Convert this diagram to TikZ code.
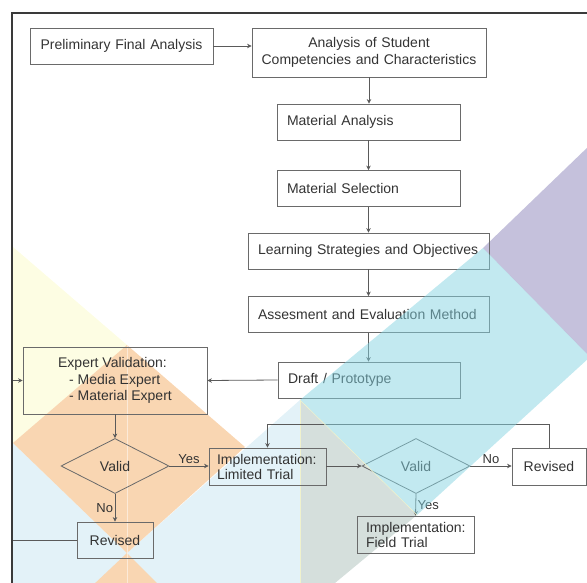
\documentclass[tikz,border=0pt]{standalone}
\usepackage{fontspec}
\setmainfont{Liberation Sans}
\usetikzlibrary{arrows.meta,shapes.geometric}

\definecolor{boxline}{HTML}{6A6A6A}
\definecolor{txt}{HTML}{333333}
\definecolor{framegray}{HTML}{3A3A3A}
\definecolor{bgyellow}{RGB}{253,253,227}
\definecolor{bgorange}{RGB}{249,214,178}
\definecolor{bgblue}{RGB}{227,242,248}
\definecolor{bggray}{RGB}{213,223,220}
\definecolor{bgcyan}{RGB}{133,211,225}
\definecolor{bgpurple}{RGB}{197,193,220}
\definecolor{seam}{RGB}{240,242,205}

\begin{document}
\begin{tikzpicture}
  [x=1pt,y=-1pt,
   every node/.style={text=txt,font=\fontsize{14}{16.5}\selectfont},
   box/.style={draw=boxline,line width=0.8pt,rectangle,inner xsep=10pt,inner ysep=0pt,minimum height=36pt},
   decision/.style={draw=boxline,line width=0.8pt,diamond,inner sep=0pt,minimum width=108pt,minimum height=55pt},
   arr/.style={draw=boxline!85!black,line width=0.8pt,-{Stealth[length=4.5pt,width=4.5pt]}},
   lbl/.style={font=\fontsize{13}{15}\selectfont,inner sep=1.5pt}]
  \useasboundingbox (0,0) rectangle (587,583);

  \fill[bgyellow] (13,247) -- (127,345) -- (13,460) -- cycle;
  \fill[bgblue] (13,443) -- (127,553) -- (300,400) -- (300,583) -- (13,583) -- cycle;
  \fill[bggray] (300,400) -- (417,515) -- (335,583) -- (300,583) -- cycle;
  \fill[bgpurple] (590,145) -- (483,248) -- (590,357) -- cycle;
  \fill[bgorange] (127,345) -- (245,447) -- (127,553) -- (13,443) -- cycle;
  \fill[bgorange] (127,553) -- (160,586) -- (92,586) -- cycle;
  \draw[white,opacity=0.5,line width=1pt] (127,345) -- (127,583);
  \draw[seam,line width=0.6pt] (300,400) -- (300,583);

  \node[box,text width=163pt,align=center] (prelim) at (121.5,46) {Preliminary Final Analysis};
  \node[box,text width=228pt,inner xsep=3pt,align=center,minimum height=49pt,font=\fontsize{14}{17}\selectfont] (competency) at (369,52.5) {Analysis of Student\\Competencies and Characteristics};
  \node[box,text width=163pt,align=left] (matanalysis) at (368.5,122) {Material Analysis};
  \node[box,text width=163pt,align=left] (matselection) at (368.5,188.5) {Material Selection};
  \node[box,text width=221pt,align=left] (strategy) at (368.5,251) {Learning Strategies and Objectives};
  \node[box,text width=221pt,align=left] (assessment) at (368.5,314.5) {Assesment and Evaluation Method};
  \node[box,text width=162pt,align=left] (draft) at (369,380) {Draft / Prototype};
  \node[box,align=left,minimum width=184pt,minimum height=67pt] (expert) at (115,380.5) {Expert Validation:\\\hspace*{11pt}- Media Expert\\\hspace*{11pt}- Material Expert};
  \node[decision] (valid1) at (115,466) {Valid};
  \node[box,text width=101pt,inner xsep=8pt,align=left,minimum height=37pt,font=\fontsize{14}{15}\selectfont] (limited) at (267.5,466.5) {Implementation:\\Limited Trial};
  \node[box,minimum width=76pt] (revised1) at (115,540) {Revised};
  \node[decision] (valid2) at (416,466) {Valid};
  \node[box,minimum width=74pt,minimum height=37pt] (revised2) at (549,466.5) {Revised};
  \node[box,text width=99pt,inner xsep=9pt,align=left,minimum height=37pt,font=\fontsize{14}{15}\selectfont] (field) at (415.5,534.5) {Implementation:\\Field Trial};
  \coordinate (back) at (12,540);

  \draw[arr] (prelim.east) -- (prelim.east -| competency.west);
  \foreach \from/\to in {competency/matanalysis,matanalysis/matselection,matselection/strategy,strategy/assessment,assessment/draft}
    \draw[arr] (\from.south) -- (\from.south |- \to.north);
  \draw[arr] (draft.west) -- (expert.east);
  \draw[arr] (expert.south) -- (valid1.north);
  \draw[arr] (valid1.east) -- node[lbl,above] {Yes} (valid1.east -| limited.west);
  \draw[arr] (valid1.south) -- node[lbl,left] {No} (revised1.north);
  \draw[arr] (limited.east |- valid2.west) -- (valid2.west);
  \draw[arr] (valid2.east) -- node[lbl,above] {No} (valid2.east -| revised2.west);
  \draw[arr] (valid2.south) -- node[lbl,right] {Yes} (field.north);
  \draw[arr] (revised2.north) -- ++(0,-23) -| (limited.north);
  \draw[arr] (revised1.west) -- (back) |- (expert.west);

  \fill[bgcyan,opacity=0.5] (483,248) -- (590,357) -- (417,515) -- (300,400) -- cycle;
  \draw[seam,line width=0.6pt] (300,400) -- (417,515);

  \draw[framegray,line width=2pt] (12,590) -- (12,13) -- (595,13);
\end{tikzpicture}
\end{document}
